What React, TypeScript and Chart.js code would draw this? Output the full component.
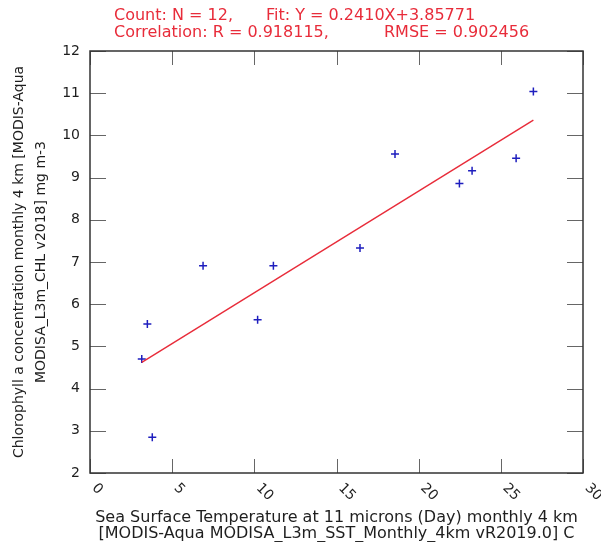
import React, { useEffect, useRef } from 'react';
import { Chart, registerables } from 'chart.js';

Chart.register(...registerables);

// ---- data ----
const sstValues = [3.15, 3.49, 3.79, 6.88, 10.2, 11.16, 16.43, 18.56, 22.48, 23.25, 25.93, 26.98];
const chlValues = [4.7, 5.53, 2.85, 6.91, 5.63, 6.91, 7.33, 9.56, 8.86, 9.16, 9.46, 11.04];
const fitX = [3.15, 26.98];
const fitY = [4.62, 10.36];

const xMin = 0;
const xMax = 30;
const xStep = 5;
const yMin = 2;
const yMax = 12;
const yStep = 1;

const headerLine1 = ['Count: N = 12,', 'Fit: Y = 0.2410X+3.85771'];
const headerLine2 = ['Correlation: R = 0.918115,', 'RMSE = 0.902456'];
const xTitle = [
  'Sea Surface Temperature at 11 microns (Day) monthly 4 km',
  '[MODIS-Aqua MODISA_L3m_SST_Monthly_4km vR2019.0] C',
];
const yTitle = [
  'Chlorophyll a concentration monthly 4 km [MODIS-Aqua',
  'MODISA_L3m_CHL v2018] mg m-3',
];

const FONT = '"DejaVu Sans", sans-serif';
const RED = 'rgb(232, 44, 58)';
const BLUE = 'rgb(30, 30, 190)';
const AXIS = '#333333';
const TICKMARK = '#666666';
const TEXT = '#1e1e1e';

const framePlugin = {
  id: 'frameAndTicks',
  beforeDatasetsDraw(chart: any) {
    const { ctx, chartArea } = chart;
    const xs = chart.scales.x;
    const ys = chart.scales.y;
    const { left, right, top, bottom } = chartArea;
    ctx.save();
    ctx.strokeStyle = TICKMARK;
    ctx.lineWidth = 1;
    xs.ticks.forEach((t: any) => {
      const px = Math.round(xs.getPixelForValue(t.value)) + 0.5;
      ctx.beginPath();
      ctx.moveTo(px, bottom);
      ctx.lineTo(px, bottom - 14);
      ctx.moveTo(px, top);
      ctx.lineTo(px, top + 14);
      ctx.stroke();
    });
    ys.ticks.forEach((t: any) => {
      const py = Math.round(ys.getPixelForValue(t.value)) + 0.5;
      ctx.beginPath();
      ctx.moveTo(left, py);
      ctx.lineTo(left + 16, py);
      ctx.moveTo(right, py);
      ctx.lineTo(right - 16, py);
      ctx.stroke();
    });
    ctx.restore();
  },
  afterDraw(chart: any) {
    const { ctx, chartArea } = chart;
    const xs = chart.scales.x;
    const { left, right, top, bottom } = chartArea;
    ctx.save();
    // frame
    ctx.strokeStyle = AXIS;
    ctx.lineWidth = 1.5;
    ctx.strokeRect(left, top, right - left, bottom - top);
    // rotated x tick labels
    ctx.fillStyle = TEXT;
    ctx.font = `14px ${FONT}`;
    ctx.textAlign = 'left';
    ctx.textBaseline = 'middle';
    xs.ticks.forEach((t: any) => {
      const px = xs.getPixelForValue(t.value);
      ctx.save();
      ctx.translate(px + 4, bottom + 13);
      ctx.rotate(Math.PI / 4);
      ctx.fillText(String(t.value), 0, 0);
      ctx.restore();
    });
    // header
    ctx.fillStyle = RED;
    ctx.font = `16px ${FONT}`;
    ctx.textBaseline = 'middle';
    ctx.fillText(headerLine1[0], 114, 16);
    ctx.fillText(headerLine1[1], 266, 16);
    ctx.fillText(headerLine2[0], 114, 33);
    ctx.fillText(headerLine2[1], 384, 33);
    ctx.restore();
  },
};

export default function App() {
  const canvasRef = useRef<HTMLCanvasElement | null>(null);

  useEffect(() => {
    if (!canvasRef.current) return;
    const points = sstValues.map((x, i) => ({ x, y: chlValues[i] }));
    const fit = fitX.map((x, i) => ({ x, y: fitY[i] }));
    const chart = new Chart(canvasRef.current, {
      type: 'scatter',
      data: {
        datasets: [
          {
            type: 'line',
            data: fit,
            borderColor: RED,
            borderWidth: 1.4,
            pointRadius: 0,
            fill: false,
          } as any,
          {
            data: points,
            pointStyle: 'cross',
            pointRadius: 4,
            pointBorderWidth: 1.5,
            borderColor: BLUE,
            backgroundColor: BLUE,
          },
        ],
      },
      options: {
        animation: false,
        responsive: false,
        devicePixelRatio: 1,
        layout: { padding: { top: 51, right: 18, bottom: 0, left: 0 } },
        plugins: {
          legend: { display: false },
          title: { display: false },
          tooltip: { enabled: false },
        },
        scales: {
          x: {
            type: 'linear',
            min: xMin,
            max: xMax,
            ticks: { stepSize: xStep, display: false },
            grid: { display: false, drawTicks: false },
            border: { display: false },
            title: {
              display: true,
              text: xTitle,
              color: TEXT,
              font: { family: FONT, size: 16, lineHeight: '16px' },
              padding: { top: 0, bottom: 0 },
            },
            afterFit: (s: any) => {
              s.height = 69;
            },
          },
          y: {
            type: 'linear',
            min: yMin,
            max: yMax,
            ticks: {
              stepSize: yStep,
              color: TEXT,
              padding: 10,
              font: { family: FONT, size: 14 },
            },
            grid: { display: false, drawTicks: false },
            border: { display: false },
            title: {
              display: true,
              text: yTitle,
              color: TEXT,
              font: { family: FONT, size: 14, lineHeight: '22px' },
              padding: { top: 8, bottom: 0 },
            },
            afterFit: (s: any) => {
              s.width = 90;
            },
          },
        },
      },
      plugins: [framePlugin],
    });
    return () => chart.destroy();
  }, []);

  return (
    <div style={{ position: 'absolute', left: 0, top: 0, width: 601, height: 542, background: '#ffffff' }}>
      <canvas ref={canvasRef} width={601} height={542} style={{ display: 'block', width: 601, height: 542 }} />
    </div>
  );
}
